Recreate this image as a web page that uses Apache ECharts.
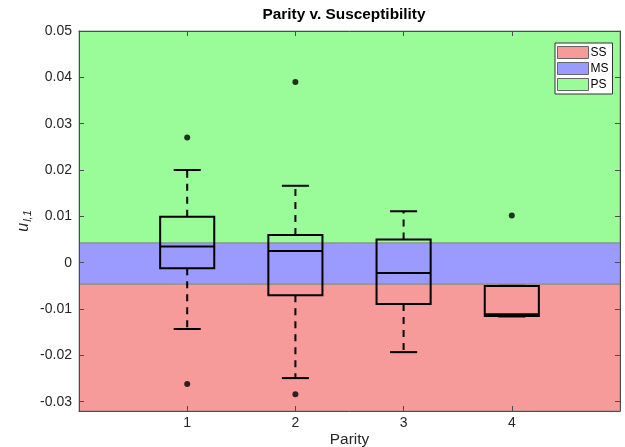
<!DOCTYPE html>
<html>
<head>
<meta charset="utf-8">
<script src="https://cdn.jsdelivr.net/npm/echarts@6/dist/echarts.min.js"></script>
<style>html,body{margin:0;padding:0;background:#fff}#c{width:625px;height:447px}</style>
</head>
<body>
<div id="c"></div>
<script>
const categories = [1, 2, 3, 4];
const lowWhisker  = [-0.0143, -0.0249, -0.0193, -0.0116];
const q1Values    = [-0.0012, -0.0070, -0.0089, -0.0115];
const medianValues= [ 0.0035,  0.0025, -0.0022, -0.0111];
const q3Values    = [ 0.0099,  0.0060,  0.0050, -0.0050];
const highWhisker = [ 0.0200,  0.0166,  0.0111, -0.0050];
const outlierX = [1, 1, 2, 2, 4];
const outlierY = [0.0270, -0.0262, 0.0390, -0.0284, 0.0102];
const bandNames = ['SS', 'MS', 'PS'];
const bandLow  = [-0.032, -0.0046, 0.0043];
const bandHigh = [-0.0046, 0.0043, 0.05];
const bandX = [0, 5];
const bandColors = ['#f79a9a', '#9a9aff', '#9afc98'];
const yTicks = [-0.03, -0.02, -0.01, 0, 0.01, 0.02, 0.03, 0.04, 0.05];
const xTicks = [1, 2, 3, 4];

const FONT = 'Liberation Sans, Arial, Helvetica, sans-serif';
const chart = echarts.init(document.getElementById('c'), null, {renderer: 'canvas'});

const boxData = categories.map((c, i) => [c, lowWhisker[i], q1Values[i], medianValues[i], q3Values[i], highWhisker[i]]);

function renderBox(params, api) {
  const x = api.value(0);
  const lo = api.coord([x, api.value(1)]);
  const q1 = api.coord([x, api.value(2)]);
  const md = api.coord([x, api.value(3)]);
  const q3 = api.coord([x, api.value(4)]);
  const hi = api.coord([x, api.value(5)]);
  const cx = lo[0];
  const hw = api.size([0.5, 0])[0] / 2;
  const cw = api.size([0.25, 0])[0] / 2;
  const dash = {stroke: '#000', lineWidth: 2, lineDash: [7, 6], fill: null};
  const solid = {stroke: '#000', lineWidth: 2, fill: null};
  return {
    type: 'group',
    children: [
      {type: 'line', shape: {x1: cx, y1: q3[1], x2: cx, y2: hi[1]}, style: dash},
      {type: 'line', shape: {x1: cx, y1: q1[1], x2: cx, y2: lo[1]}, style: dash},
      {type: 'line', shape: {x1: cx - cw, y1: hi[1], x2: cx + cw, y2: hi[1]}, style: solid},
      {type: 'line', shape: {x1: cx - cw, y1: lo[1], x2: cx + cw, y2: lo[1]}, style: solid},
      {type: 'rect', shape: {x: cx - hw, y: q3[1], width: 2 * hw, height: q1[1] - q3[1]}, style: solid},
      {type: 'line', shape: {x1: cx - hw, y1: md[1], x2: cx + hw, y2: md[1]}, style: solid}
    ]
  };
}

const bandSeries = bandNames.map((name, i) => ({
  name: name,
  type: 'custom',
  z: 1,
  silent: true,
  itemStyle: {color: bandColors[i]},
  data: [[bandX[0], bandLow[i], bandX[1], bandHigh[i]]],
  renderItem: function (params, api) {
    const p1 = api.coord([api.value(0), api.value(3)]);
    const p2 = api.coord([api.value(2), api.value(1)]);
    return {
      type: 'rect',
      shape: {x: p1[0], y: p1[1], width: p2[0] - p1[0], height: p2[1] - p1[1]},
      style: {fill: bandColors[i], stroke: '#7a8a7a', lineWidth: 0.8}
    };
  }
}));

const axisLineStyle = {color: '#4d4d4d', width: 1};
const option = {
  animation: false,
  backgroundColor: '#fff',
  title: {
    text: 'Parity v. Susceptibility',
    left: 344, top: 7, textAlign: 'center', padding: 0,
    textStyle: {fontFamily: FONT, fontSize: 15.4, fontWeight: 'bold', color: '#000'}
  },
  legend: {
    data: bandNames,
    orient: 'vertical',
    left: 555, top: 43,
    padding: [3, 4, 3, 2],
    itemWidth: 31, itemHeight: 12, itemGap: 3,
    icon: 'rect',
    selectedMode: false,
    backgroundColor: '#fff',
    borderColor: '#333', borderWidth: 1, borderRadius: 0,
    itemStyle: {borderColor: '#666', borderWidth: 1},
    textStyle: {fontFamily: FONT, fontSize: 12, color: '#000', padding: [0, 0, 0, -3]}
  },
  grid: {left: 79, right: 5, top: 31, bottom: 36, containLabel: false, outerBoundsMode: 'none'},
  xAxis: [{
    type: 'value', min: 0, max: 5, position: 'bottom', z: 10,
    name: 'Parity', nameLocation: 'middle', nameGap: 21, nameMoveOverlap: false,
    nameTextStyle: {fontFamily: FONT, fontSize: 15.4, color: '#262626'},
    axisLine: {show: true, onZero: false, lineStyle: axisLineStyle},
    axisTick: {show: true, inside: true, length: 5, customValues: xTicks, lineStyle: axisLineStyle},
    axisLabel: {customValues: xTicks, fontFamily: FONT, fontSize: 14, color: '#262626', margin: 5},
    splitLine: {show: false}
  }, {
    type: 'value', min: 0, max: 5, position: 'top', z: 10,
    axisLine: {show: true, onZero: false, lineStyle: axisLineStyle},
    axisTick: {show: true, inside: true, length: 5, customValues: xTicks, lineStyle: axisLineStyle},
    axisLabel: {show: false},
    splitLine: {show: false}
  }],
  yAxis: [{
    type: 'value', min: -0.032, max: 0.05, position: 'left', z: 10,
    name: '{u|u}{s|l,1}', nameLocation: 'middle', nameGap: 46, nameRotate: 90, nameMoveOverlap: false,
    nameTextStyle: {
      fontFamily: FONT, color: '#262626',
      rich: {
        u: {fontFamily: FONT, fontSize: 16, fontStyle: 'italic', color: '#262626'},
        s: {fontFamily: FONT, fontSize: 11, fontStyle: 'italic', color: '#262626', padding: [8, 0, 0, 1]}
      }
    },
    axisLine: {show: true, onZero: false, lineStyle: axisLineStyle},
    axisTick: {show: true, inside: true, length: 5, customValues: yTicks, lineStyle: axisLineStyle},
    axisLabel: {
      customValues: yTicks, fontFamily: FONT, fontSize: 14, color: '#262626', margin: 7,
      formatter: v => (Math.abs(v) < 1e-9 ? '0' : v.toFixed(2))
    },
    splitLine: {show: false}
  }, {
    type: 'value', min: -0.032, max: 0.05, position: 'right', z: 10,
    axisLine: {show: true, onZero: false, lineStyle: axisLineStyle},
    axisTick: {show: true, inside: true, length: 5, customValues: yTicks, lineStyle: axisLineStyle},
    axisLabel: {show: false},
    splitLine: {show: false}
  }],
  series: bandSeries.concat([
    {
      name: 'box', type: 'custom', z: 3, silent: true,
      data: boxData, renderItem: renderBox
    },
    {
      name: 'outliers', type: 'scatter', z: 4, silent: true,
      symbol: 'circle', symbolSize: 6,
      itemStyle: {color: '#000'},
      data: outlierX.map((x, i) => [x, outlierY[i]])
    }
  ])
};
chart.setOption(option);
</script>
</body>
</html>
